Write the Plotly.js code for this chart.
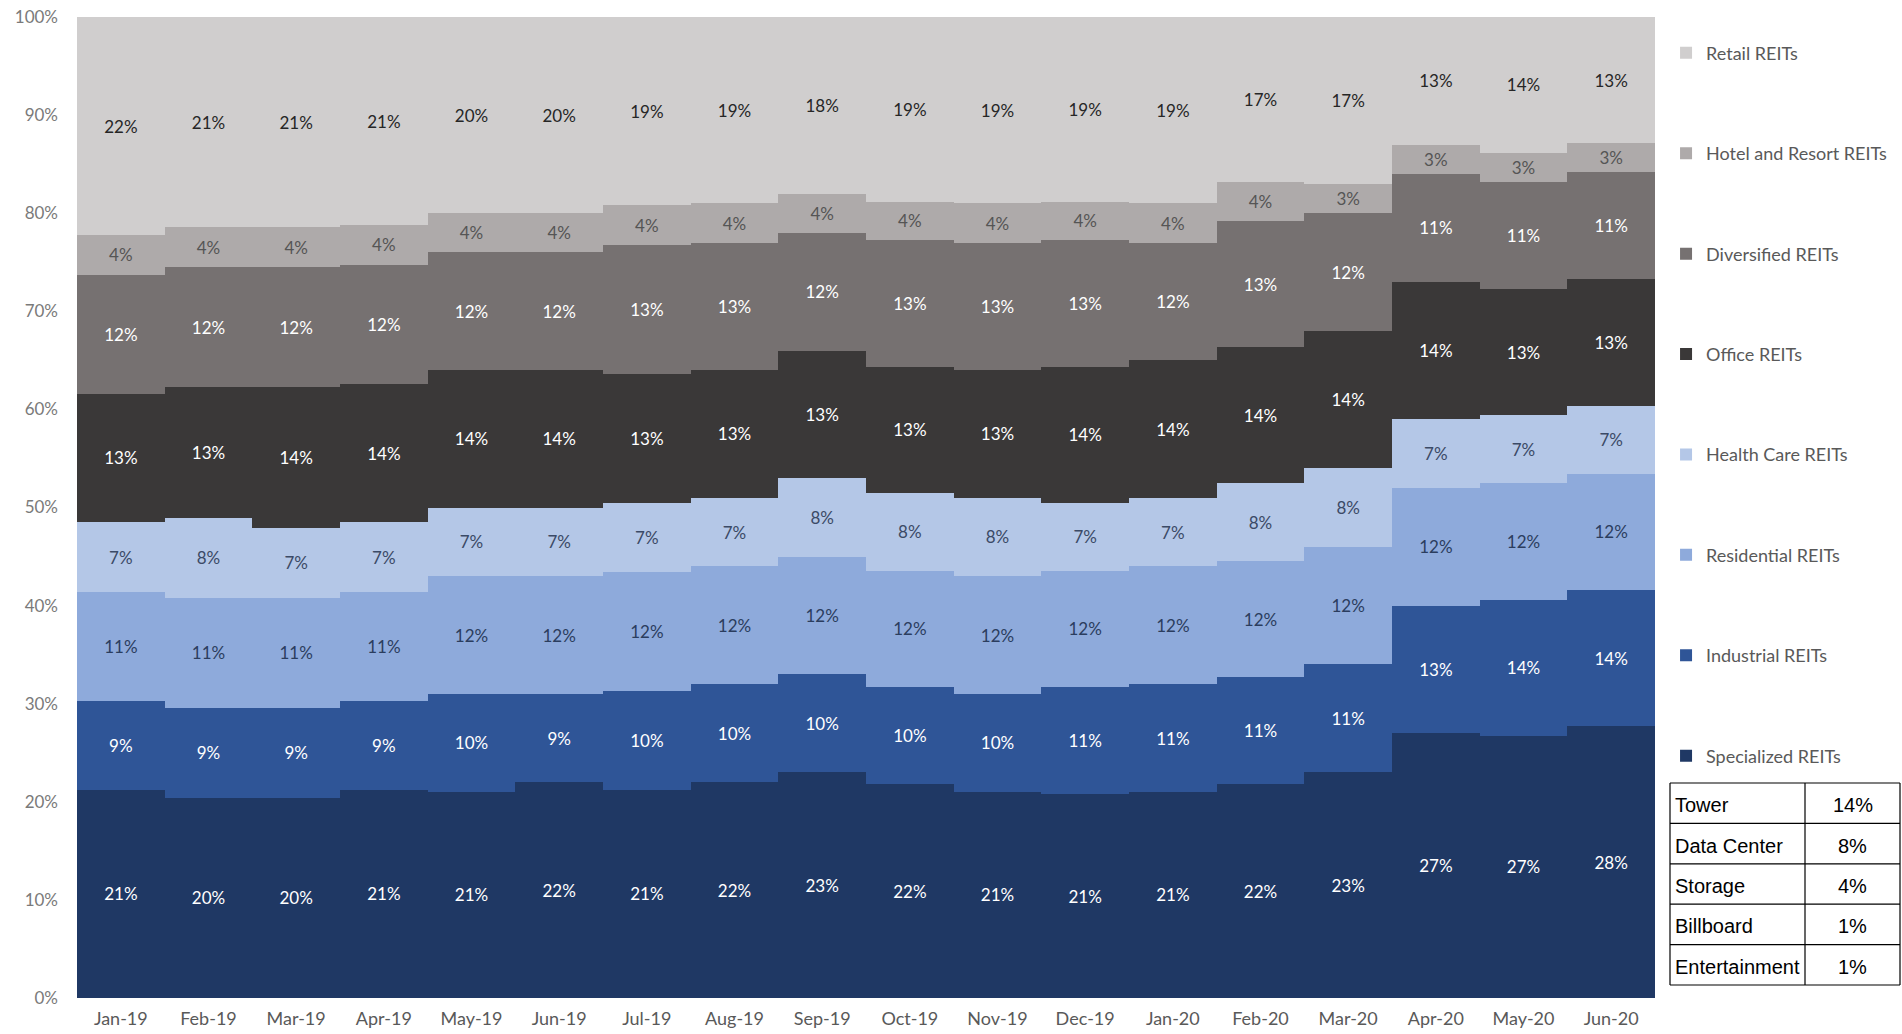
<!DOCTYPE html>
<html>
<head>
<meta charset="utf-8">
<script src="https://cdn.plot.ly/plotly-3.0.1.min.js"></script>
<style>
  html, body { margin: 0; padding: 0; background: #ffffff; }
  #chart { width: 1902px; height: 1034px; }
</style>
</head>
<body>
<div id="chart"></div>
<script>
// Months on the x axis
const months = ["Jan-19","Feb-19","Mar-19","Apr-19","May-19","Jun-19","Jul-19","Aug-19","Sep-19",
                "Oct-19","Nov-19","Dec-19","Jan-20","Feb-20","Mar-20","Apr-20","May-20","Jun-20"];

// Sector weights (%) per month, bottom of the stack first
const specialized = [21,20,20,21,21,22,21,22,23,22,21,21,21,22,23,27,27,28];
const industrial  = [9,9,9,9,10,9,10,10,10,10,10,11,11,11,11,13,14,14];
const residential = [11,11,11,11,12,12,12,12,12,12,12,12,12,12,12,12,12,12];
const healthCare  = [7,8,7,7,7,7,7,7,8,8,8,7,7,8,8,7,7,7];
const office      = [13,13,14,14,14,14,13,13,13,13,13,14,14,14,14,14,13,13];
const diversified = [12,12,12,12,12,12,13,13,12,13,13,13,12,13,12,11,11,11];
const hotelResort = [4,4,4,4,4,4,4,4,4,4,4,4,4,4,3,3,3,3];
const retail      = [22,21,21,21,20,20,19,19,18,19,19,19,19,17,17,13,14,13];

// Y axis ticks
const yTickVals  = [0,10,20,30,40,50,60,70,80,90,100];
const yTickTexts = ["0%","10%","20%","30%","40%","50%","60%","70%","80%","90%","100%"];

// Breakdown of the specialized segment
const specialtyNames  = ["Tower","Data Center","Storage","Billboard","Entertainment"];
const specialtyShares = ["14%","8%","4%","1%","1%"];

const series = [
  {name: "Specialized REITs",       y: specialized, color: "#1f3864", txt: "#ffffff"},
  {name: "Industrial REITs",        y: industrial,  color: "#2f5597", txt: "#ffffff"},
  {name: "Residential REITs",       y: residential, color: "#8eaadb", txt: "#2b3d5e"},
  {name: "Health Care REITs",       y: healthCare,  color: "#b4c7e7", txt: "#3b4a66"},
  {name: "Office REITs",            y: office,      color: "#3a3838", txt: "#ffffff"},
  {name: "Diversified REITs",       y: diversified, color: "#767171", txt: "#ffffff"},
  {name: "Hotel and Resort REITs",  y: hotelResort, color: "#aeaaaa", txt: "#555555"},
  {name: "Retail REITs",            y: retail,      color: "#d0cece", txt: "#262626"}
];

const traces = series.map((s, i) => ({
  type: "bar",
  name: s.name,
  legendgroup: "g" + i,
  legendrank: series.length - i,
  x: months,
  y: s.y,
  text: s.y.map(v => v + "%"),
  textposition: "inside",
  insidetextanchor: "middle",
  textangle: 0,
  constraintext: "none",
  textfont: {family: "Lato, 'Open Sans', sans-serif", size: 17, color: s.txt},
  marker: {color: s.color, line: {width: 0}},
  hoverinfo: "skip"
}));

// Small table of specialized sub-sectors, drawn in paper space
const shapes = [];
const annotations = [];
const tblLeft = 1670, tblMid = 1805, tblRight = 1900, tblTop = 783, rowH = 40.4;
const W = 1902, H = 1034, mL = 77, mR = 247, mT = 17, mB = 36;
const pw = W - mL - mR, ph = H - mT - mB;
const px = v => (v - mL) / pw;
const py = v => (H - mB - v) / ph;
const nRows = specialtyNames.length;
for (let r = 0; r <= nRows; r++) {
  const yy = tblTop + r * rowH;
  shapes.push({type: "line", xref: "paper", yref: "paper",
    x0: px(tblLeft), x1: px(tblRight), y0: py(yy), y1: py(yy),
    line: {color: "#000000", width: 1.2}});
}
[tblLeft, tblMid, tblRight].forEach(xx => {
  shapes.push({type: "line", xref: "paper", yref: "paper",
    x0: px(xx), x1: px(xx), y0: py(tblTop), y1: py(tblTop + nRows * rowH),
    line: {color: "#000000", width: 1.2}});
});
specialtyNames.forEach((n, r) => {
  const yc = tblTop + (r + 0.5) * rowH + 2;
  annotations.push({xref: "paper", yref: "paper", x: px(tblLeft + 3), y: py(yc),
    xanchor: "left", yanchor: "middle", showarrow: false, text: n,
    font: {family: "'Liberation Sans', Arial, sans-serif", size: 20, color: "#000000"}});
  annotations.push({xref: "paper", yref: "paper", x: px((tblMid + tblRight) / 2), y: py(yc),
    xanchor: "center", yanchor: "middle", showarrow: false, text: specialtyShares[r],
    font: {family: "'Liberation Sans', Arial, sans-serif", size: 20, color: "#000000"}});
});

const layout = {
  width: W, height: H,
  margin: {l: mL, r: mR, t: mT, b: mB, pad: 0, autoexpand: false},
  paper_bgcolor: "#ffffff",
  plot_bgcolor: "#ffffff",
  barmode: "stack",
  barnorm: "percent",
  bargap: 0,
  showlegend: true,
  legend: {
    x: 1.007, xanchor: "left", y: 0.982, yanchor: "top",
    traceorder: "grouped",
    tracegroupgap: 74,
    font: {family: "Lato, 'Open Sans', sans-serif", size: 18, color: "#595959"},
    bgcolor: "rgba(0,0,0,0)",
    itemwidth: 30
  },
  xaxis: {
    type: "category",
    showgrid: false, zeroline: false, showline: false,
    ticks: "",
    tickfont: {family: "Lato, 'Open Sans', sans-serif", size: 18, color: "#595959"},
    ticklabelstandoff: 8
  },
  yaxis: {
    range: [0, 100],
    tickmode: "array",
    tickvals: yTickVals,
    ticktext: yTickTexts,
    showgrid: false, zeroline: false, showline: false,
    ticks: "",
    tickfont: {family: "Lato, 'Open Sans', sans-serif", size: 17, color: "#7a7a7a"},
    ticklabelstandoff: 18
  },
  shapes: shapes,
  annotations: annotations
};

Plotly.newPlot("chart", traces, layout, {displayModeBar: false, staticPlot: true});
</script>
</body>
</html>
